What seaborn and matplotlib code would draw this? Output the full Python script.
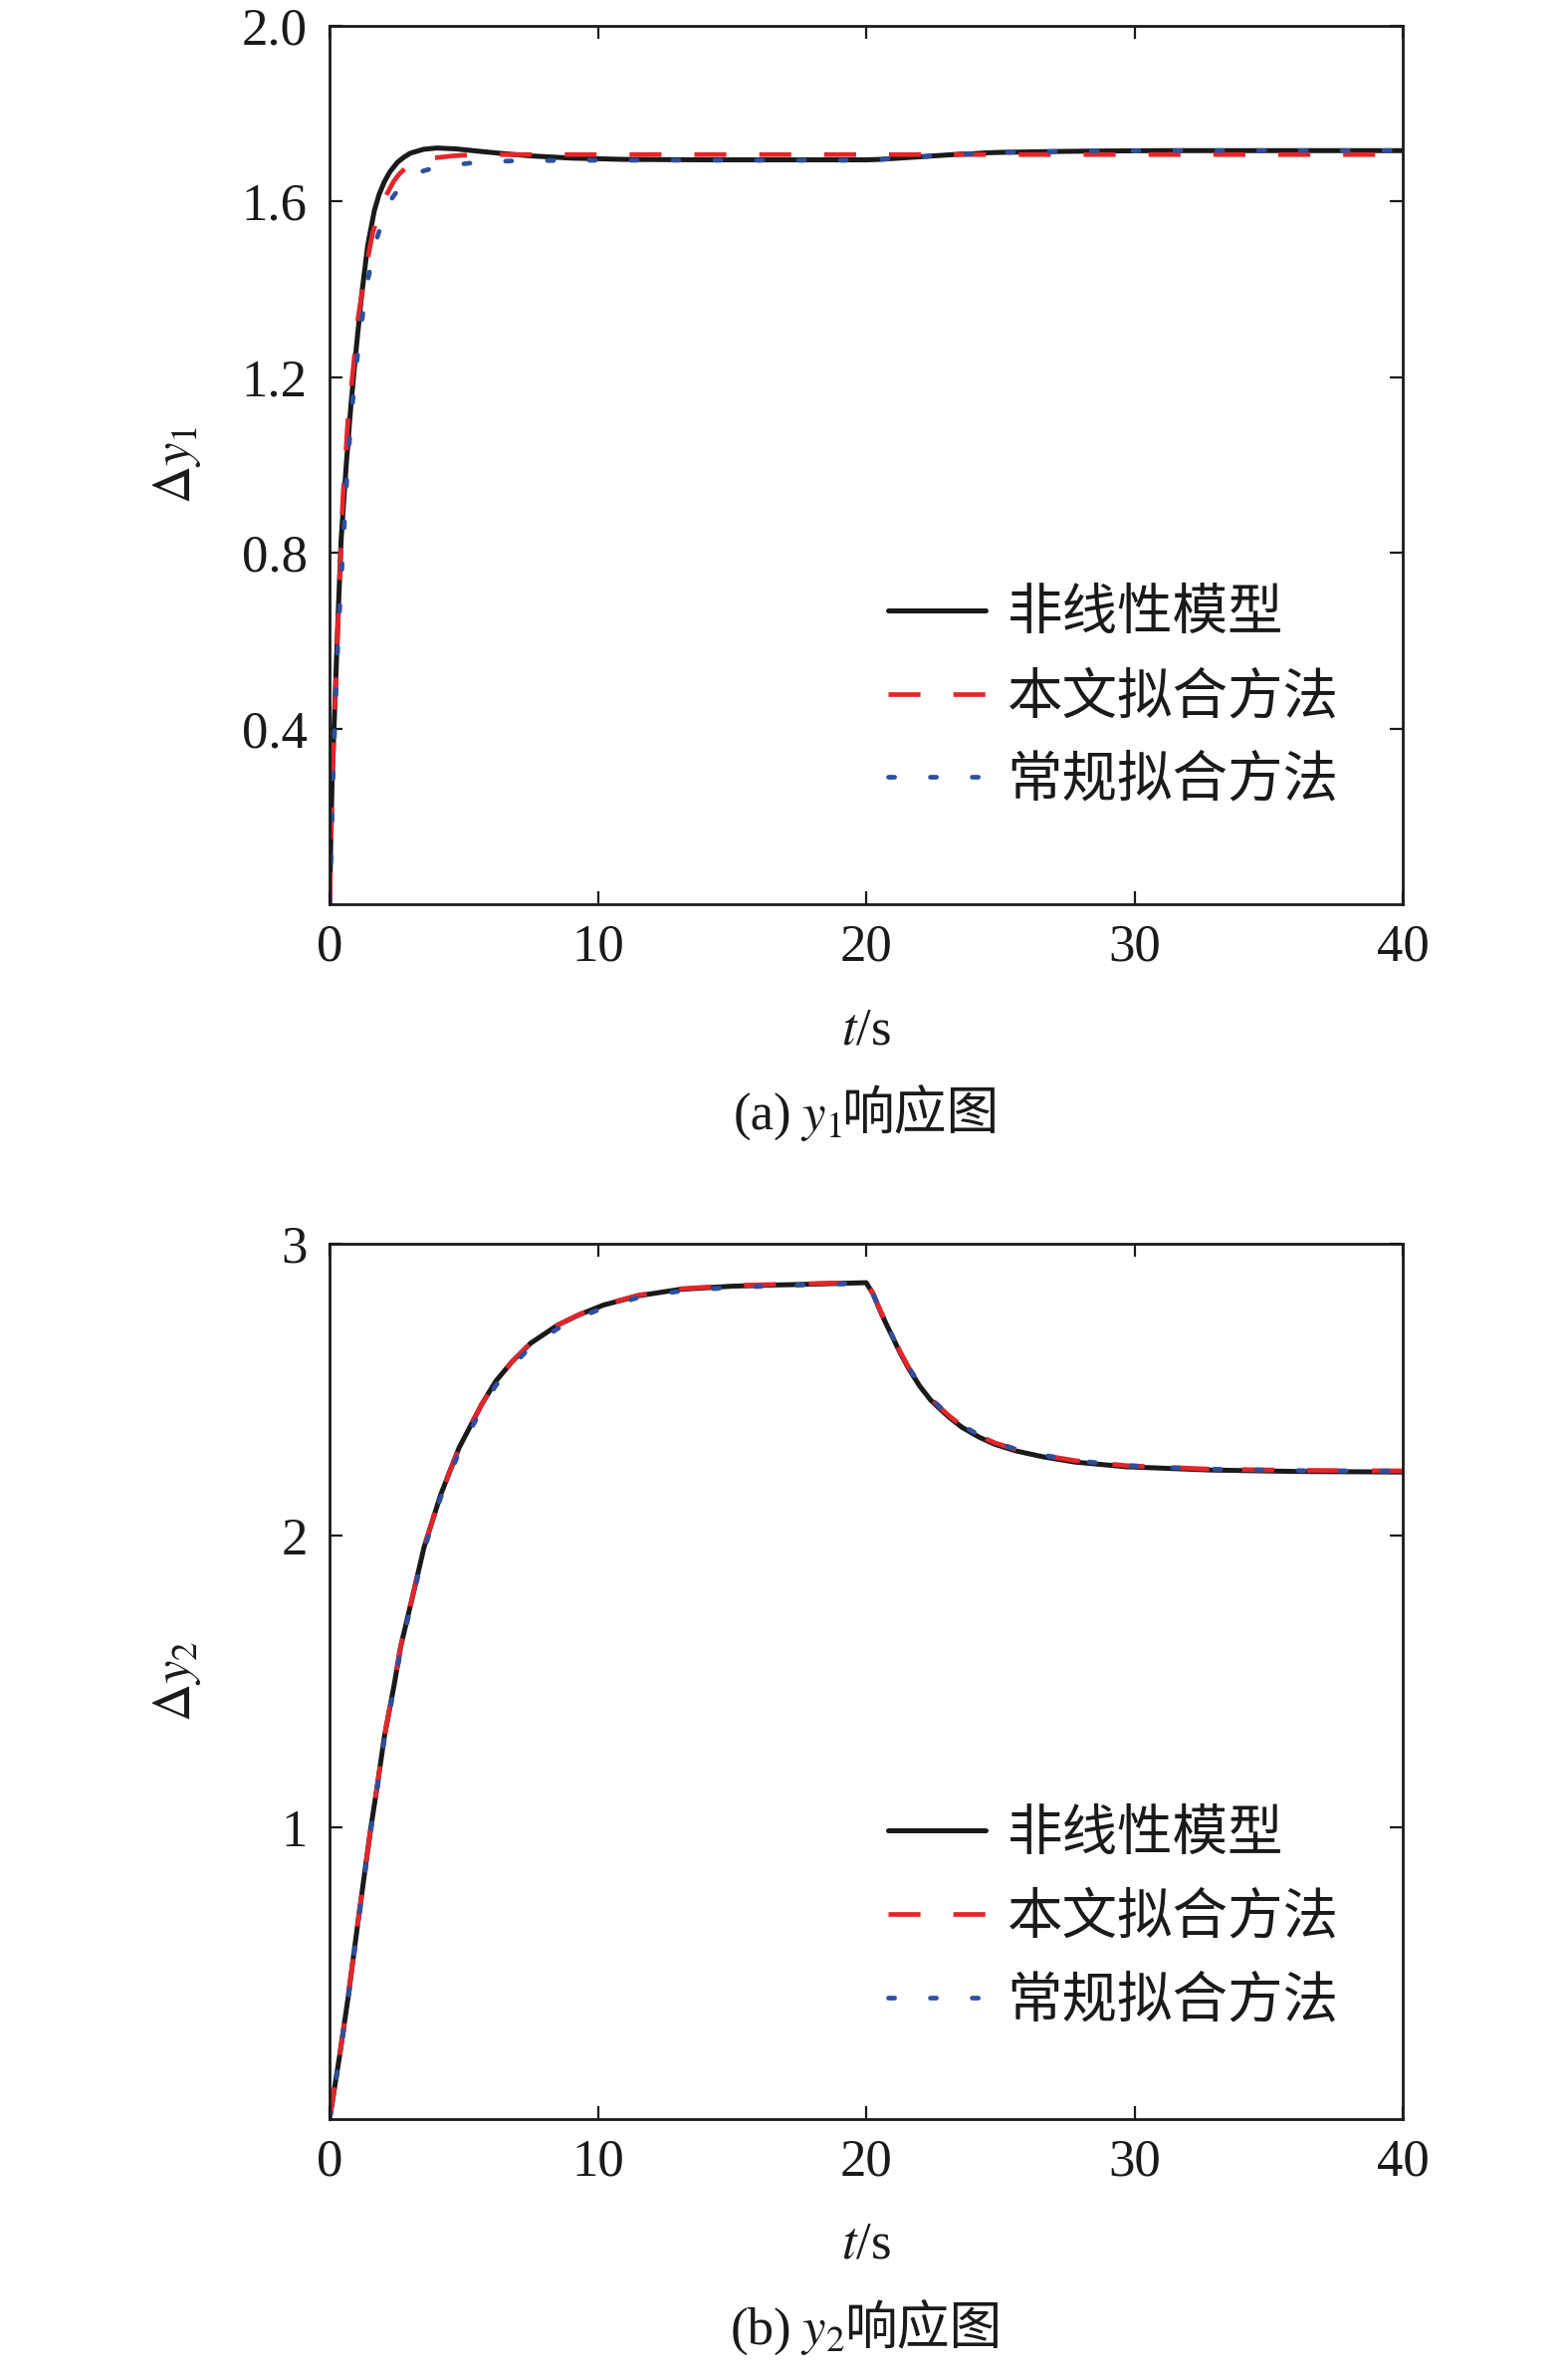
import matplotlib
matplotlib.use("Agg")
import matplotlib.pyplot as plt
import seaborn as sns
from matplotlib.offsetbox import TextArea, HPacker, AnchoredOffsetbox

# ---------------- data ----------------
labels = ["非线性模型", "本文拟合方法", "常规拟合方法"]

# panel (a): y1
t1_nl = [0, 0.05, 0.1, 0.2, 0.3, 0.43, 0.62, 0.8, 1.0, 1.2, 1.42, 1.67, 1.85, 2.04, 2.25, 2.54,
         2.75, 3.0, 3.5, 4.0, 4.7, 5.5, 6.5, 7.5, 9.0, 11, 14, 17, 20, 20.5, 21, 21.5, 22, 22.5,
         23, 23.5, 24, 24.5, 25, 26, 27, 28.5, 31, 35, 40]
y1_nl = [0, 0.16, 0.30, 0.46, 0.63, 0.83, 1.0, 1.14, 1.27, 1.39, 1.50, 1.58, 1.617, 1.645, 1.668, 1.69,
         1.70, 1.71, 1.719, 1.722, 1.72, 1.715, 1.709, 1.704, 1.699, 1.696, 1.695, 1.695, 1.695, 1.696, 1.698, 1.70, 1.702, 1.704,
         1.706, 1.708, 1.709, 1.711, 1.712, 1.713, 1.714, 1.715, 1.716, 1.716, 1.716]

t1_fit = [0, 0.05, 0.12, 0.3, 0.49, 0.68, 0.93, 1.05, 1.36, 1.61, 1.9, 2.16, 2.4, 2.6, 2.9, 3.28,
          3.6, 4.0, 4.6, 5.4, 8, 12, 20, 30, 40]
y1_fit = [0, 0.14, 0.31, 0.62, 0.92, 1.10, 1.25, 1.33, 1.45, 1.53, 1.585, 1.62, 1.647, 1.663, 1.68, 1.69,
          1.696, 1.70, 1.704, 1.707, 1.707, 1.707, 1.707, 1.707, 1.707]

t1_conv = [0, 0.06, 0.12, 0.25, 0.33, 0.49, 0.68, 0.87, 1.11, 1.42, 1.73, 2.1, 2.35, 2.6, 2.9, 3.28,
           3.8, 4.33, 5.0, 5.63, 7.0, 10, 14, 20, 20.5, 21, 22, 23, 24, 25, 26, 27, 28.5, 31, 35, 40]
y1_conv = [0, 0.10, 0.27, 0.51, 0.62, 0.80, 1.01, 1.15, 1.29, 1.42, 1.51, 1.58, 1.61, 1.63, 1.65, 1.666,
           1.675, 1.68, 1.686, 1.69, 1.693, 1.694, 1.694, 1.694, 1.696, 1.698, 1.702, 1.706, 1.709, 1.712,
           1.713, 1.714, 1.715, 1.716, 1.716, 1.716]

# panel (b): y2
t2_nl = [0, 0.37, 0.68, 1.05, 1.36, 1.54, 1.79, 2.04, 2.41, 2.65, 3.09, 3.52, 4.14, 4.82, 5.67,
         6.2, 6.81, 7.5, 8.51, 9.3, 10.2, 11.5, 13.05, 15.0, 16.6, 18.0, 20.0, 20.25, 20.5, 20.75,
         21.26, 21.6, 22.0, 22.4, 22.8, 23.1, 23.56, 24.2, 24.8, 25.6, 26.6, 27.8, 29.7,
         32.8, 36, 40]
y2_nl = [0, 0.215, 0.41, 0.67, 0.88, 1.0, 1.15, 1.31, 1.49, 1.62, 1.79, 1.96, 2.14, 2.30, 2.45,
         2.53, 2.597, 2.66, 2.722, 2.757, 2.79, 2.822, 2.844, 2.855, 2.859, 2.862, 2.867, 2.83, 2.775, 2.725,
         2.628, 2.57, 2.512, 2.465, 2.43, 2.405, 2.372, 2.338, 2.313, 2.29, 2.27, 2.252, 2.236,
         2.225, 2.22, 2.218]

t2_fit = list(t2_nl)
y2_fit = [0, 0.215, 0.41, 0.67, 0.88, 1.0, 1.15, 1.31, 1.49, 1.62, 1.79, 1.96, 2.14, 2.30, 2.45,
          2.53, 2.597, 2.66, 2.722, 2.758, 2.791, 2.824, 2.846, 2.857, 2.861, 2.864, 2.868, 2.832, 2.778, 2.728,
          2.632, 2.574, 2.516, 2.47, 2.435, 2.41, 2.377, 2.343, 2.318, 2.295, 2.275, 2.257, 2.24,
          2.228, 2.224, 2.222]

t2_conv = list(t2_nl)
y2_conv = [0, 0.21, 0.40, 0.66, 0.87, 0.99, 1.14, 1.30, 1.48, 1.61, 1.78, 1.95, 2.13, 2.285, 2.435,
           2.515, 2.582, 2.648, 2.71, 2.747, 2.781, 2.816, 2.838, 2.851, 2.856, 2.86, 2.865, 2.83, 2.776, 2.727,
           2.632, 2.575, 2.517, 2.471, 2.437, 2.412, 2.379, 2.345, 2.32, 2.296, 2.276, 2.257, 2.24,
           2.228, 2.223, 2.221]

x_ticks = [0, 10, 20, 30, 40]
y1_ticks = [0.4, 0.8, 1.2, 1.6, 2.0]
y1_ticklabels = ["0.4", "0.8", "1.2", "1.6", "2.0"]
y2_ticks = [1, 2, 3]
y2_ticklabels = ["1", "2", "3"]

# ---------------- style ----------------
sns.set_theme(style="ticks")
plt.rcParams["font.family"] = ["Liberation Serif", "Noto Sans CJK SC"]
plt.rcParams["mathtext.fontset"] = "stix"
plt.rcParams["axes.unicode_minus"] = False

C_BLACK = "#1a1a1a"
C_RED = "#e3262b"
C_BLUE = "#2f4f9f"
FS = 38
LEG_FS = 40
CJK = "Noto Sans CJK SC"

fig = plt.figure(figsize=(15.75, 23.87), dpi=100)
ax1 = fig.add_axes([0.2102, 0.6196, 0.6844, 0.3695])
ax2 = fig.add_axes([0.2102, 0.1085, 0.6844, 0.3682])


def draw_panel(ax, t_nl, y_nl, t_fit, y_fit, t_conv, y_conv, ylim, yticks, yticklabels,
               ylabel, cap_prefix, cap_math, legend_top):
    sns.lineplot(x=t_nl, y=y_nl, ax=ax, color=C_BLACK, linewidth=3.6, estimator=None,
                 sort=False, label=labels[0])
    sns.lineplot(x=t_fit, y=y_fit, ax=ax, color=C_RED, linewidth=3.4, estimator=None,
                 sort=False, label=labels[1], linestyle=(0, (6.8, 7.0)))
    sns.lineplot(x=t_conv, y=y_conv, ax=ax, color=C_BLUE, linewidth=3.4, estimator=None,
                 sort=False, label=labels[2], linestyle=(0, (1.3, 7.6)),
                 dash_capstyle="round")
    ax.set_xlim(0, 40)
    ax.set_ylim(*ylim)
    ax.set_xticks(x_ticks)
    ax.set_xticklabels([str(v) for v in x_ticks])
    ax.set_yticks(yticks)
    ax.set_yticklabels(yticklabels)
    ax.tick_params(axis="both", which="major", direction="in", length=9.5, width=1.6,
                   top=True, right=True, labelsize=FS, colors=C_BLACK)
    ax.tick_params(axis="x", pad=14)
    ax.tick_params(axis="y", pad=16)
    for sp in ax.spines.values():
        sp.set_visible(True)
        sp.set_linewidth(2.0)
        sp.set_color(C_BLACK)
    ax.set_xlabel(r"$t$/s", fontsize=FS, color=C_BLACK)
    ax.xaxis.set_label_coords(0.5, -0.117)
    ax.set_ylabel(ylabel, fontsize=FS, color=C_BLACK)
    ax.yaxis.set_label_coords(-0.118, 0.5)

    leg = ax.legend(loc="upper left", bbox_to_anchor=(0.520, legend_top), frameon=False,
                    prop={"family": CJK, "size": LEG_FS}, handlelength=1.78,
                    handletextpad=0.38, labelspacing=0.47, borderpad=0, borderaxespad=0)
    for txt in leg.get_texts():
        txt.set_color(C_BLACK)

    parts = [TextArea(cap_prefix, textprops=dict(fontsize=FS, family="Liberation Serif", color=C_BLACK)),
             TextArea(cap_math, textprops=dict(fontsize=FS, color=C_BLACK)),
             TextArea("响应图", textprops=dict(fontsize=FS, family=CJK, color=C_BLACK))]
    pack = HPacker(children=parts, align="baseline", pad=0, sep=0)
    box = AnchoredOffsetbox(loc="center", child=pack, frameon=False, pad=0, borderpad=0,
                            bbox_to_anchor=(0.5, -0.240), bbox_transform=ax.transAxes)
    ax.add_artist(box)


draw_panel(ax1, t1_nl, y1_nl, t1_fit, y1_fit, t1_conv, y1_conv, (0, 2.0), y1_ticks,
           y1_ticklabels, r"$\Delta y_1$", "(a)", r"$\;y_1$", 0.363)
draw_panel(ax2, t2_nl, y2_nl, t2_fit, y2_fit, t2_conv, y2_conv, (0, 3.0), y2_ticks,
           y2_ticklabels, r"$\Delta y_2$", "(b)", r"$\;y_2$", 0.358)

fig.savefig("out.png", dpi=100, facecolor="white")
